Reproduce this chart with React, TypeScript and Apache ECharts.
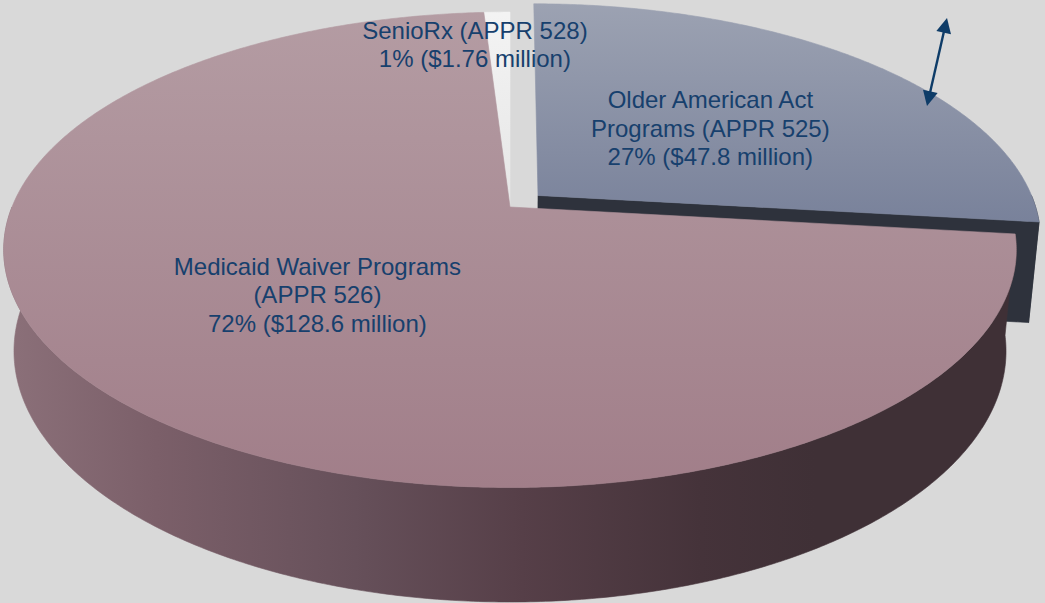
import React, { useEffect, useRef } from 'react';
import * as echarts from 'echarts';

// ---- data ----
const categories = [
  'Older American Act Programs (APPR 525)',
  'Medicaid Waiver Programs (APPR 526)',
  'SenioRx (APPR 528)',
];
const labelNames = [
  ['Older American Act', 'Programs (APPR 525)'],
  ['Medicaid Waiver Programs', '(APPR 526)'],
  ['SenioRx (APPR 528)'],
];
const valuesMillions = [47.8, 128.6, 1.76];

// ---- layout / style ----
const CX = 510;
const CY = 207;
const RX = 498;
const RY = 230;
const PERSP = 0.18;
const DEPTH = 101.8;
const DEPTH_PERSP = 0.02;
const START_ANGLE = 90;
const EXPLODE_INDEX = 0;
const EXPLODE_DIST = 0.076;
const LABEL_RADIUS = 0.5;
const LABEL_DY = 3.5;
const SMALL_LABEL_OFFSET = [-22, 32.5];
const TEXT_COLOR = '#17406d';
const FONT = '24px "Liberation Sans", Arial, sans-serif';

const sliceStyles = [
  {
    top: ['#9ca2b2', '#78819a'],
    topY: [4, 226],
    wall: [{ offset: 0, color: '#2e323c' }, { offset: 1, color: '#2e323c' }],
    cut: '#2e323c',
  },
  {
    top: ['#b49ca3', '#a17e89'],
    topY: [12, 488],
    wall: [
      { offset: 0, color: '#8c717a' },
      { offset: 0.15, color: '#7b5f69' },
      { offset: 0.34, color: '#66505a' },
      { offset: 0.5, color: '#563f48' },
      { offset: 0.67, color: '#45333a' },
      { offset: 0.78, color: '#3f3036' },
      { offset: 1, color: '#3f3036' },
    ],
    cut: '#5a454e',
  },
  {
    top: ['#f3f3f3', '#e6e6e6'],
    topY: [14, 207],
    wall: [{ offset: 0, color: '#cfcfcf' }, { offset: 1, color: '#cfcfcf' }],
    cut: '#d4d4d4',
  },
];

function proj(u: number, v: number, w: number): number[] {
  const d = 1 - PERSP * v + DEPTH_PERSP * w;
  return [CX + (RX * u) / d, CY + (RY * v + DEPTH * w) / d];
}

const rad = (a: number) => (a * Math.PI) / 180;

function buildSlices() {
  const total = valuesMillions.reduce((a, b) => a + b, 0);
  let acc = START_ANGLE;
  return valuesMillions.map((val, i) => {
    const a1 = acc;
    const a2 = acc - (val / total) * 360;
    acc = a2;
    const mid = (a1 + a2) / 2;
    const off = i === EXPLODE_INDEX ? EXPLODE_DIST : 0;
    const ou = off * Math.cos(rad(mid));
    const ov = -off * Math.sin(rad(mid));
    return { a1, a2, mid, ou, ov, pct: Math.round((val / total) * 100), val };
  });
}

function arcPoints(s: any, from: number, to: number, w: number): number[][] {
  const n = Math.max(2, Math.ceil(Math.abs(from - to) / 0.5) + 1);
  const pts: number[][] = [];
  for (let k = 0; k < n; k++) {
    const a = from + ((to - from) * k) / (n - 1);
    pts.push(proj(s.ou + Math.cos(rad(a)), s.ov - Math.sin(rad(a)), w));
  }
  return pts;
}

export default function App() {
  const ref = useRef<HTMLDivElement>(null);

  useEffect(() => {
    if (!ref.current) return;
    const chart = echarts.init(ref.current, undefined, { renderer: 'svg' });
    const slices = buildSlices();
    // painter order: back first
    const order = slices
      .map((s, i) => ({ i, depth: s.ov - Math.sin(rad(s.mid)) }))
      .sort((a, b) => a.depth - b.depth)
      .map((o) => o.i);

    const renderItem = (params: any) => {
      const i = params.dataIndex;
      const s = slices[i];
      const st = sliceStyles[i];
      const rank = order.indexOf(i);
      const children: any[] = [];
      const topGrad = new echarts.graphic.LinearGradient(
        0, st.topY[0], 0, st.topY[1],
        [{ offset: 0, color: st.top[0] }, { offset: 1, color: st.top[1] }],
        true
      );
      const wallGrad = new echarts.graphic.LinearGradient(0, 0, 1045, 0, st.wall, true);
      // outer wall (front half only)
      const lo = Math.max(s.a2, -180);
      const hi = Math.min(s.a1, 0);
      if (lo < hi) {
        const topArc = arcPoints(s, hi, lo, 0);
        const botArc = arcPoints(s, lo, hi, 1);
        children.push({
          type: 'polygon',
          z2: rank * 10 + 1,
          shape: { points: topArc.concat(botArc) },
          style: { fill: wallGrad, stroke: wallGrad, lineWidth: 0.6 },
        });
      }
      // radial cut faces
      const c0 = proj(s.ou, s.ov, 0);
      const c1 = proj(s.ou, s.ov, 1);
      const face = (a: number) => {
        const r0 = proj(s.ou + Math.cos(rad(a)), s.ov - Math.sin(rad(a)), 0);
        const r1 = proj(s.ou + Math.cos(rad(a)), s.ov - Math.sin(rad(a)), 1);
        children.push({
          type: 'polygon',
          z2: rank * 10 + 2,
          shape: { points: [c0, r0, r1, c1] },
          style: { fill: st.cut, stroke: st.cut, lineWidth: 0.6 },
        });
      };
      if (Math.cos(rad(s.a1)) < -0.01) face(s.a1);
      if (Math.cos(rad(s.a2)) > 0.01) face(s.a2);
      // top face
      children.push({
        type: 'polygon',
        z2: rank * 10 + 3,
        shape: { points: [c0].concat(arcPoints(s, s.a1, s.a2, 0)) },
        style: { fill: topGrad, stroke: topGrad, lineWidth: 0.6 },
      });
      // label
      const lines = labelNames[i].concat([`${s.pct}% ($${s.val} million)`]);
      let lx: number, ly: number;
      if (s.pct >= 5) {
        const p = proj(
          s.ou + LABEL_RADIUS * Math.cos(rad(s.mid)),
          s.ov - LABEL_RADIUS * Math.sin(rad(s.mid)),
          0
        );
        lx = p[0];
        ly = p[1] + LABEL_DY;
      } else {
        const p = proj(s.ou + Math.cos(rad(s.mid)), s.ov - Math.sin(rad(s.mid)), 0);
        lx = p[0] + SMALL_LABEL_OFFSET[0];
        ly = p[1] + SMALL_LABEL_OFFSET[1];
      }
      children.push({
        type: 'text',
        z2: 100,
        x: lx,
        y: ly,
        style: {
          text: lines.join('\n'),
          fill: TEXT_COLOR,
          font: FONT,
          align: 'center',
          verticalAlign: 'middle',
          textAlign: 'center',
          textVerticalAlign: 'middle',
          lineHeight: 28.5,
        },
      });
      return { type: 'group', children };
    };

    // double-headed arrow
    const A0 = [927, 106];
    const A1 = [947, 18];
    const dx = A1[0] - A0[0];
    const dy = A1[1] - A0[1];
    const len = Math.hypot(dx, dy);
    const ux = dx / len;
    const uy = dy / len;
    const px = -uy;
    const py = ux;
    const HL = 15;
    const HW = 7.5;
    const head = (tip: number[], dir: number) => {
      const bx = tip[0] - dir * HL * ux;
      const by = tip[1] - dir * HL * uy;
      return [
        [tip[0], tip[1]],
        [bx + HW * px, by + HW * py],
        [bx - HW * px, by - HW * py],
      ];
    };
    const arrowColor = '#0e3c68';

    chart.setOption({
      animation: false,
      backgroundColor: '#d9d9d9',
      series: [
        {
          type: 'custom',
          name: 'Budget',
          coordinateSystem: 'none',
          silent: true,
          z: 2,
          renderItem,
          data: valuesMillions.map((v, i) => ({ name: categories[i], value: [i, v] })),
        },
      ],
      graphic: [
        {
          type: 'line',
          id: 'arrowLine',
          silent: true,
          z: 200,
          shape: {
            x1: A0[0] + HL * 0.8 * ux,
            y1: A0[1] + HL * 0.8 * uy,
            x2: A1[0] - HL * 0.8 * ux,
            y2: A1[1] - HL * 0.8 * uy,
          },
          style: { stroke: arrowColor, lineWidth: 2.4 },
        },
        {
          type: 'polygon',
          id: 'arrowHeadTop',
          silent: true,
          z: 200,
          shape: { points: head(A1, 1) },
          style: { fill: arrowColor },
        },
        {
          type: 'polygon',
          id: 'arrowHeadBottom',
          silent: true,
          z: 200,
          shape: { points: head(A0, -1) },
          style: { fill: arrowColor },
        },
      ],
    });
    return () => chart.dispose();
  }, []);

  return (
    <div
      ref={ref}
      style={{ position: 'fixed', left: 0, top: 0, width: 1045, height: 603 }}
    />
  );
}
